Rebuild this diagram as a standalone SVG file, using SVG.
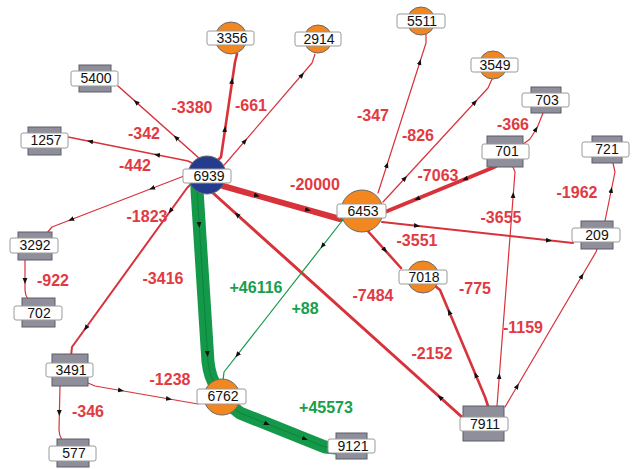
<svg xmlns="http://www.w3.org/2000/svg" width="640" height="469" viewBox="0 0 640 469">
<style>
.e{fill:none;stroke:#d8323a;stroke-linejoin:round;stroke-linecap:round}
.g{fill:none;stroke:#14984a;stroke-linejoin:round;stroke-linecap:round}
.gc{fill:none;stroke:#0c7a38;stroke-width:1;stroke-linejoin:round;opacity:.7}
.a{fill:none;stroke:none;marker-mid:url(#ar)}
.w1{stroke-width:1.2}.w15{stroke-width:1.5}.w2{stroke-width:2}.w25{stroke-width:2.6}.w3{stroke-width:3}.w4{stroke-width:4}.w6{stroke-width:6}.w13{stroke-width:13}
.lr{font-family:"Liberation Sans",Arial,sans-serif;font-weight:bold;font-size:16px;fill:#e23a42;text-anchor:middle}
.lg{font-family:"Liberation Sans",Arial,sans-serif;font-weight:bold;font-size:16px;fill:#17a04a;text-anchor:middle}
.oc{fill:#f2861f;stroke:#6a6a6a;stroke-width:1}
.bc{fill:#253c8e;stroke:#6a6a6a;stroke-width:1}
.gr{fill:#8e8f9b;stroke:#5c5c68;stroke-width:1}
.bx{fill:#fff;stroke:#9a9a9a;stroke-width:1}
.t{font-family:"Liberation Sans",Arial,sans-serif;font-size:14px;fill:#111;text-anchor:middle}
</style>
<defs>
<marker id="ar" viewBox="0 0 10 10" refX="5" refY="5" markerWidth="6" markerHeight="6" markerUnits="userSpaceOnUse" orient="auto"><path d="M0,1 L10,5 L0,9z" fill="#111"/></marker>
</defs>
<rect width="640" height="469" fill="#fff"/>
<g id="connectors">
<path class="e w25" d="M218 160 L221 157 L235 62 L237 54"/><path class="a" d="M221 157 L225 129 L232 81 L235 62"/>
<path class="e w1" d="M222 167 L226 163 L312 63 L315 54"/><path class="a" d="M226 163 L245 141 L302 75 L312 63"/>
<path class="e w15" d="M204 165 L200 159 L118 86"/><path class="a" d="M200 159 L176 137.6 L136 102 L118 86"/>
<path class="e w15" d="M200 167 L188 161 L68 137"/><path class="a" d="M188 161 L157 154.8 L90 141.4 L68 137"/>
<path class="e w1" d="M190 174 L184 176 L52 227 L47 233"/><path class="a" d="M184 176 L152 188.4 L71 219.6 L52 227"/>
<path class="e w2" d="M193 182 L187 188 L72 347 L71 356"/><path class="a" d="M187 188 L170.4 211 L85.8 328 L72 347"/>
<path class="e w6" d="M215 183 L223 186 L340 219"/><path class="a" d="M223 186 L257 195.6 L308 210 L340 219"/>
<path class="e w3" d="M463 418 L213 193 L210 188"/><path class="a" d="M463 418 L440 397.3 L237 214.6 L213 193"/>
<path class="g w13" d="M197 180 L197 190 L208 362 Q210 378 216 386"/><path class="gc" d="M197 180 L197 190 L208 362 Q210 378 216 386"/><path class="a" d="M197 190 L199.2 225 L207.5 354 L208 362"/>
<path class="g w1" d="M346 218 L342 221 L224 372 L223 381"/><path class="a" d="M342 221 L322.5 246 L237.3 355 L224 372"/>
<path class="g w13" d="M226 402 L240 413 L325 447 L336 448"/><path class="gc" d="M226 402 L240 413 L325 447 L336 448"/><path class="a" d="M240 413 L267 423.8 L305 439 L325 447"/>
<path class="e w1" d="M88 383 L95 386 L198 404"/><path class="a" d="M95 386 L121 390.5 L169 398.9 L198 404"/>
<path class="e w1" d="M60 386 L59 430 Q59 435 62 440"/><path class="a" d="M59.5 390 L59.3 413 L59 430"/>
<path class="e w1" d="M25 260 L25 290 Q25 295 28 299"/><path class="a" d="M25 262 L25 281 L25 290"/>
<path class="e w1" d="M378 193 L426 43 L426 34"/><path class="a" d="M378 193 L387 165 L419.9 62 L426 43"/>
<path class="e w1" d="M383 202 L488 88 L492 79"/><path class="a" d="M383 202 L405 178.1 L475 102.1 L488 88"/>
<path class="e w4" d="M496 166 L492 168 L385 212"/><path class="a" d="M492 168 L465 179.1 L417 198.8 L385 212"/>
<path class="e w2" d="M382 222 L573 243"/><path class="a" d="M382 222 L417 225.8 L549 240.4 L573 243"/>
<path class="e w25" d="M366 229 L401 268"/><path class="a" d="M366 229 L385 250.2 L401 268"/>
<path class="e w25" d="M488 406 L485 397 L440 290 L434 285"/><path class="a" d="M485 397 L475.7 375 L449.2 312 L440 290"/>
<path class="e w1" d="M497 406 L515 172 L513 167"/><path class="a" d="M497 406 L499.3 376 L513.2 195 L515 172"/>
<path class="e w1" d="M505 407 L596 252 L597 249"/><path class="a" d="M505 407 L517.3 386 L581.9 276 L596 252"/>
<path class="e w1" d="M605 221 L615 172 L613 163"/><path class="a" d="M605 221 L611.3 190 L615 172"/>
<path class="e w1" d="M522 145 L530 139 L537 128 L543 113"/><path class="a" d="M531 137 L536 129 L540 121"/>
</g>
<g id="edge-labels">
<text class="lr" x="192" y="113">-3380</text>
<text class="lr" x="251" y="111">-661</text>
<text class="lr" x="144" y="139">-342</text>
<text class="lr" x="135" y="171">-442</text>
<text class="lr" x="147" y="222">-1823</text>
<text class="lr" x="163" y="284">-3416</text>
<text class="lr" x="53" y="286">-922</text>
<text class="lg" x="256" y="293">+46116</text>
<text class="lg" x="305" y="314">+88</text>
<text class="lr" x="315" y="190">-20000</text>
<text class="lr" x="373" y="121">-347</text>
<text class="lr" x="418" y="141">-826</text>
<text class="lr" x="513" y="130">-366</text>
<text class="lr" x="438" y="181">-7063</text>
<text class="lr" x="577" y="198">-1962</text>
<text class="lr" x="501" y="223">-3655</text>
<text class="lr" x="417" y="246">-3551</text>
<text class="lr" x="373" y="301">-7484</text>
<text class="lr" x="475" y="294">-775</text>
<text class="lr" x="523" y="333">-1159</text>
<text class="lr" x="432" y="359">-2152</text>
<text class="lg" x="326" y="413">+45573</text>
<text class="lr" x="170" y="385">-1238</text>
<text class="lr" x="88" y="417">-346</text>
</g>
<g id="n3356"><circle class="oc" cx="231" cy="38" r="16"/><rect class="bx" x="207" y="31" width="47" height="14" rx="2"/><text class="t" x="232" y="43">3356</text></g>
<g id="n2914"><circle class="oc" cx="318" cy="39" r="14"/><rect class="bx" x="295" y="32" width="46" height="14" rx="2"/><text class="t" x="319" y="44">2914</text></g>
<g id="n5511"><circle class="oc" cx="421" cy="21" r="14"/><rect class="bx" x="397" y="14" width="48" height="14" rx="2"/><text class="t" x="422" y="26">5511</text></g>
<g id="n3549"><circle class="oc" cx="493" cy="65" r="14"/><rect class="bx" x="471" y="58" width="47" height="14" rx="2"/><text class="t" x="495" y="70">3549</text></g>
<g id="n6939"><circle class="bc" cx="207" cy="175" r="19"/><rect class="bx" x="183" y="169" width="48" height="14" rx="2"/><text class="t" x="209" y="181">6939</text></g>
<g id="n6453"><circle class="oc" cx="362" cy="211" r="21"/><rect class="bx" x="337" y="204" width="49" height="14" rx="2"/><text class="t" x="363" y="216">6453</text></g>
<g id="n7018"><circle class="oc" cx="423" cy="277" r="16"/><rect class="bx" x="399" y="270" width="48" height="14" rx="2"/><text class="t" x="424" y="282">7018</text></g>
<g id="n6762"><circle class="oc" cx="222" cy="397" r="18"/><rect class="bx" x="197" y="389" width="49" height="15" rx="2"/><text class="t" x="223" y="401">6762</text></g>
<g id="n5400"><rect class="gr" x="79" y="65" width="32" height="27"/><rect class="bx" x="71" y="71" width="47" height="15" rx="2"/><text class="t" x="96" y="83">5400</text></g>
<g id="n1257"><rect class="gr" x="28" y="127" width="33" height="28"/><rect class="bx" x="21" y="133" width="47" height="15" rx="2"/><text class="t" x="46" y="145">1257</text></g>
<g id="n703"><rect class="gr" x="531" y="87" width="30" height="26"/><rect class="bx" x="522" y="93" width="47" height="14" rx="2"/><text class="t" x="547" y="105">703</text></g>
<g id="n701"><rect class="gr" x="487" y="136" width="36" height="31"/><rect class="bx" x="482" y="144" width="47" height="15" rx="2"/><text class="t" x="507" y="156">701</text></g>
<g id="n721"><rect class="gr" x="592" y="136" width="30" height="27"/><rect class="bx" x="582" y="142" width="47" height="15" rx="2"/><text class="t" x="607" y="154">721</text></g>
<g id="n209"><rect class="gr" x="581" y="221" width="32" height="28"/><rect class="bx" x="572" y="228" width="48" height="14" rx="2"/><text class="t" x="597" y="240">209</text></g>
<g id="n3292"><rect class="gr" x="18" y="232" width="34" height="28"/><rect class="bx" x="10" y="238" width="48" height="15" rx="2"/><text class="t" x="35" y="250">3292</text></g>
<g id="n702"><rect class="gr" x="22" y="298" width="33" height="29"/><rect class="bx" x="14" y="306" width="48" height="14" rx="2"/><text class="t" x="39" y="318">702</text></g>
<g id="n3491"><rect class="gr" x="52" y="354" width="36" height="32"/><rect class="bx" x="46" y="363" width="47" height="14" rx="2"/><text class="t" x="71" y="375">3491</text></g>
<g id="n577"><rect class="gr" x="57" y="439" width="32" height="28"/><rect class="bx" x="49" y="446" width="47" height="15" rx="2"/><text class="t" x="74" y="458">577</text></g>
<g id="n7911"><rect class="gr" x="463" y="406" width="41" height="35"/><rect class="bx" x="460" y="417" width="48" height="14" rx="2"/><text class="t" x="485" y="429">7911</text></g>
<g id="n9121"><rect class="gr" x="336" y="433" width="31" height="26"/><rect class="bx" x="328" y="439" width="47" height="14" rx="2"/><text class="t" x="353" y="451">9121</text></g>
</svg>
